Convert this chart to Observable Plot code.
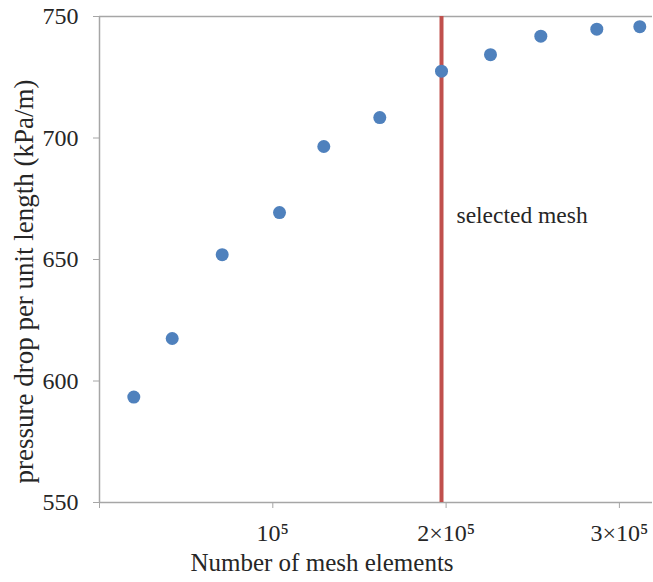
<!DOCTYPE html>
<html>
<head>
<meta charset="utf-8">
<script src="https://cdn.jsdelivr.net/npm/d3@7"></script>
<script src="https://cdn.jsdelivr.net/npm/@observablehq/plot@0.6"></script>
<style>
  html, body { margin: 0; padding: 0; background: white; }
  svg, svg text { font-family: "Liberation Serif", "Times New Roman", serif !important; }
</style>
</head>
<body>
<div id="chart"></div>
<script>
const meshElements = [19790, 41950, 70800, 103870, 129430, 161740, 197350, 225620, 254650, 286960, 311770];
const pressureDrop = [593.4, 617.5, 652.0, 669.3, 696.5, 708.4, 727.5, 734.3, 741.9, 744.8, 745.8];
const selectedMesh = 197350;
const xTicks = [0, 100000, 200000, 300000];
const xTickLabels = ["", "10⁵", "2×10⁵", "3×10⁵"];
const yTicks = [550, 600, 650, 700, 750];
const xTitle = "Number of mesh elements";
const yTitle = "pressure drop per unit length (kPa/m)";
const annotation = "selected mesh";
const annotationY = 668;

const data = meshElements.map((x, i) => ({x, y: pressureDrop[i]}));
const gray = "#a6a6a6";
const ink = "#262626";

const svg = Plot.plot({
  width: 653,
  height: 582,
  marginLeft: 99,
  marginRight: 1,
  marginTop: 16,
  marginBottom: 80,
  style: {fontSize: "24px", color: ink, background: "white"},
  x: {domain: [0, 319100]},
  y: {domain: [550, 750]},
  marks: [
    Plot.ruleY([750], {stroke: gray, strokeWidth: 1.5}),
    Plot.axisX({ticks: xTicks, tickFormat: d => xTickLabels[xTicks.indexOf(d)], tickSize: 6, tickPadding: 15, stroke: gray, strokeOpacity: 1, fill: ink, label: null}),
    Plot.axisY({ticks: yTicks, tickSize: 6, tickPadding: 15, stroke: gray, strokeOpacity: 1, fill: ink, label: null}),
    Plot.ruleX([0], {stroke: gray, strokeWidth: 1.5}),
    Plot.ruleY([550], {stroke: gray, strokeWidth: 1.5}),
    Plot.ruleX([selectedMesh], {stroke: "#c0504d", strokeWidth: 4}),
    Plot.dot(data, {x: "x", y: "y", r: 6.5, fill: "#4f81bd", stroke: "none"}),
    Plot.text([annotation], {x: selectedMesh, y: annotationY, dx: 15, text: d => d, textAnchor: "start", fontSize: 23.5, fill: ink}),
    Plot.text([xTitle], {frameAnchor: "bottom", text: d => d, textAnchor: "middle", dx: -54, dy: 68, fontSize: 25, fill: ink}),
    Plot.text([yTitle], {frameAnchor: "left", text: d => d, rotate: -90, textAnchor: "middle", lineAnchor: "middle", dx: -75, dy: 22, fontSize: 27, fill: ink})
  ]
});
document.getElementById("chart").appendChild(svg);
</script>
</body>
</html>
